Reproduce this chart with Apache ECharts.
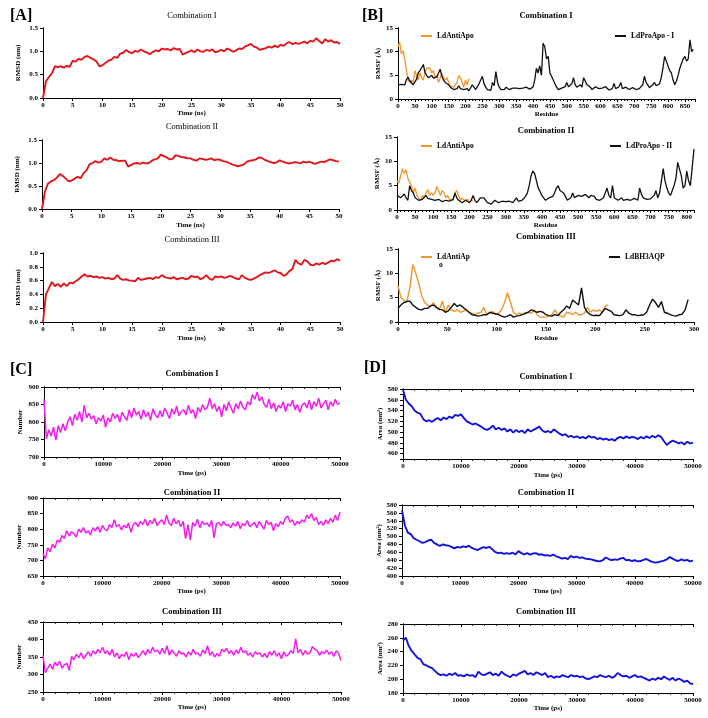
<!DOCTYPE html>
<html><head><meta charset="utf-8">
<script src="https://cdn.jsdelivr.net/npm/echarts@6/dist/echarts.min.js"></script>
<style>html,body{margin:0;padding:0;background:#fff}#c{width:708px;height:718px}</style>
</head><body><div id="c"></div>
<script>
// ---------- DATA ----------
// [A] RMSD (nm), time 0..50 ns every 0.5 ns
const rmsdA1 = [0,0.36,0.45,0.53,0.68,0.66,0.68,0.65,0.69,0.67,
0.8,0.78,0.84,0.82,0.88,0.9,0.86,0.83,0.78,0.68,
0.7,0.75,0.8,0.82,0.88,0.86,0.95,0.97,1.03,0.98,
0.96,1.01,0.99,1.04,1.0,0.97,0.94,0.99,1.02,1.0,
1.06,1.04,1.05,1.02,1.07,1.04,1.05,0.93,0.96,0.99,
1.02,0.98,1.04,1.0,0.99,1.03,1.01,1.04,0.98,1.0,
1.03,1.0,1.06,1.03,0.99,1.02,1.06,1.05,1.1,1.13,
1.16,1.1,1.08,1.03,1.05,1.07,1.1,1.08,1.12,1.09,
1.14,1.12,1.17,1.2,1.15,1.18,1.16,1.18,1.21,1.17,
1.23,1.21,1.28,1.22,1.17,1.26,1.21,1.24,1.19,1.2,
1.16];
const rmsdA2 = [0,0.38,0.55,0.6,0.63,0.68,0.76,0.72,0.66,0.6,
0.62,0.66,0.7,0.67,0.78,0.84,0.97,1.0,1.04,1.01,
1.03,1.1,1.07,1.12,1.07,1.06,1.04,1.05,1.05,0.92,
0.96,0.99,1.0,0.98,1.01,0.99,1.0,1.05,1.08,1.1,
1.18,1.15,1.12,1.08,1.09,1.17,1.15,1.13,1.12,1.1,
1.1,1.07,1.05,1.1,1.09,1.07,1.08,1.1,1.06,1.08,
1.07,1.04,1.03,1.0,0.97,0.95,0.93,0.95,0.97,1.03,
1.05,1.06,1.08,1.12,1.11,1.07,1.04,1.02,1.0,1.01,
1.06,1.03,1.01,0.99,1.0,1.02,1.01,0.99,1.03,1.01,
1.03,1.0,0.98,1.01,1.03,1.02,1.05,1.08,1.06,1.04,
1.03];
const rmsdA3 = [0,0.4,0.49,0.58,0.52,0.55,0.51,0.56,0.52,0.57,
0.56,0.59,0.62,0.66,0.69,0.66,0.67,0.65,0.66,0.64,
0.65,0.63,0.64,0.62,0.63,0.68,0.63,0.61,0.62,0.6,
0.6,0.59,0.64,0.61,0.62,0.63,0.64,0.62,0.65,0.64,
0.68,0.65,0.64,0.63,0.65,0.62,0.63,0.64,0.62,0.63,
0.67,0.65,0.66,0.62,0.64,0.68,0.63,0.61,0.66,0.65,
0.66,0.64,0.65,0.67,0.65,0.63,0.62,0.68,0.64,0.62,
0.61,0.63,0.65,0.68,0.7,0.72,0.71,0.73,0.75,0.72,
0.71,0.67,0.69,0.74,0.77,0.9,0.85,0.83,0.9,0.88,
0.83,0.82,0.85,0.83,0.86,0.84,0.86,0.89,0.88,0.91,
0.89];

// [B] RMSF (A) per residue
const rmsfB1Pro = [3.0,2.7,3.1,2.8,3.0,4.1,4.6,3.8,3.4,3.0,
3.2,4.2,5.5,6.0,6.6,7.3,5.6,5.0,4.5,4.2,
5.0,4.4,4.0,4.6,5.5,6.3,4.8,4.0,3.5,3.2,
3.0,2.5,2.7,2.0,1.7,2.2,2.8,2.2,2.5,2.0,
1.8,2.2,1.7,2.0,3.0,2.5,2.0,2.4,3.2,3.0,
4.8,3.2,2.5,2.0,2.2,1.8,3.5,2.8,5.8,3.5,
2.5,2.0,1.6,2.0,2.5,2.2,2.0,2.4,2.3,2.0,
2.3,2.1,2.2,2.4,2.3,2.0,2.5,2.3,2.1,2.2,
2.5,4.0,6.5,5.5,7.0,5.0,11.8,11.0,8.5,9.0,
5.5,4.8,4.0,3.2,2.5,2.0,1.8,2.3,2.0,2.6,
3.5,2.6,2.8,3.2,4.5,3.0,2.5,2.8,3.0,2.5,
4.5,4.2,3.0,2.6,2.5,2.0,2.2,2.6,3.0,2.2,
1.8,2.3,2.0,2.6,2.5,1.9,1.8,2.2,3.3,2.2,
2.0,2.6,3.5,2.2,2.0,2.5,2.5,2.0,1.8,2.4,
2.5,2.0,1.7,2.2,2.5,3.0,4.8,3.5,3.0,2.4,
2.5,3.0,3.5,2.8,2.5,3.2,4.5,6.5,9.0,8.0,
7.0,6.0,5.5,4.0,3.0,3.8,5.0,6.5,7.5,8.5,
9.0,8.0,8.5,12.5,10.0,10.5];
const rmsfB1Anti = [11.0,12.0,9.5,10.2,8.5,6.0,4.0,3.5,4.0,3.5,
6.0,5.0,4.0,5.5,4.5,4.0,5.5,6.5,6.3,6.5,
5.5,6.0,4.5,5.0,3.5,4.5,5.5,4.5,4.0,4.5,
3.5,2.8,3.0,2.5,2.7,3.5,5.0,4.5,3.5,2.5,
4.0,3.0,4.3];
const rmsfB2Pro = [3.0,2.6,2.5,2.8,3.3,2.5,2.0,5.0,4.0,3.5,
2.5,2.2,2.0,2.4,2.2,2.6,3.0,2.4,2.0,2.2,
2.5,2.0,1.8,2.2,2.0,1.7,1.8,2.0,2.3,1.8,
1.7,2.2,3.5,2.5,2.0,1.7,1.5,1.8,2.0,1.6,
1.5,2.0,3.0,2.0,1.5,2.0,2.5,2.2,2.5,2.0,
1.5,1.3,1.2,1.6,2.0,1.7,1.5,1.8,1.8,1.6,
1.7,1.5,1.8,1.6,1.5,1.8,2.5,1.8,1.8,2.0,
2.0,2.8,3.5,5.0,7.0,8.0,7.5,6.0,4.5,3.8,
3.0,2.5,2.0,2.2,2.5,2.3,2.8,3.5,4.5,5.0,
4.0,3.8,3.5,2.8,2.0,2.2,2.5,3.5,2.5,2.8,
3.0,2.6,2.8,3.0,3.2,2.8,2.5,3.0,3.3,2.8,
2.2,2.5,2.0,2.2,2.5,2.2,4.5,3.0,2.5,5.0,
2.5,2.2,2.0,2.3,2.5,2.0,1.8,2.2,2.5,2.0,
2.0,2.4,2.3,2.0,4.5,3.2,2.5,2.3,2.2,2.0,
2.3,2.5,3.0,4.0,2.5,3.5,6.0,8.5,6.0,4.5,
3.5,3.0,4.0,5.0,6.5,9.8,9.5,7.0,4.5,5.0,
8.0,6.0,5.0,5.0,12.5];
const rmsfB2Anti = [6.0,5.5,7.0,8.5,7.5,8.3,6.5,6.8,5.0,3.5,
4.5,3.0,2.5,2.0,3.0,2.5,3.5,4.2,3.0,3.5,
3.0,3.5,4.8,4.0,3.0,4.0,3.5,2.5,3.0,2.2,
2.5,2.0,3.5,4.0,3.0,2.0,2.5,2.0,1.8,2.2,
1.5,2.0,1.8];
const rmsfB3BH3 = [2.8,3.5,4.0,4.2,4.3,3.5,3.0,2.6,2.5,2.8,
2.8,3.3,3.5,3.0,2.6,2.5,2.0,2.3,3.0,3.8,
3.2,3.5,3.0,2.5,2.0,1.5,1.4,1.2,1.3,1.5,
1.5,2.0,1.8,1.7,1.5,1.2,1.0,1.2,1.5,1.0,
1.2,1.3,1.5,1.8,2.0,2.5,2.3,2.0,2.2,2.0,
1.5,1.3,1.2,1.5,1.3,2.0,2.5,3.3,2.8,4.5,
4.0,3.5,7.0,3.0,2.0,1.5,1.3,1.4,1.3,2.0,
2.8,2.5,2.2,1.5,1.4,1.3,1.5,2.5,1.8,1.5,
1.5,1.3,1.4,1.5,2.0,3.5,4.7,4.0,3.0,4.2,
2.0,1.8,1.5,1.3,1.2,1.5,1.6,2.5,4.6];
const rmsfB3Anti = [7.5,5.0,4.5,4.2,7.0,11.8,10.0,8.0,5.5,4.0,
3.5,3.2,4.0,3.0,2.5,4.3,2.0,3.5,2.5,2.2,
2.5,2.0,2.2,2.5,2.0,1.8,1.5,1.8,2.0,3.0,
1.5,1.8,2.2,1.5,1.8,2.5,4.0,6.0,4.0,2.0,
1.5,1.8,1.5,1.7,2.0,1.8,2.5,1.5,1.0,1.0,
1.0,1.2,1.5,2.5,1.5,1.2,1.0,2.0,1.8,1.5,
2.0,1.5,1.5,1.8,3.0,2.0,2.5,2.2,2.5,2.0,
3.2,3.5];

// [C] Number, time 0..50000 ps every 400 ps
const numC1 = [865,752,778,760,785,748,790,770,795,775,
800,815,790,822,805,830,800,848,812,825,
808,818,795,812,803,820,785,812,800,825,
810,822,800,828,815,805,835,812,840,820,
830,808,835,815,828,805,838,820,812,832,
815,840,825,810,838,822,845,818,830,835,
820,848,825,835,810,842,828,850,835,842,
868,838,852,830,845,815,850,832,858,840,
825,852,838,860,842,835,858,848,878,865,
885,860,872,850,842,865,838,855,830,848,
840,858,830,852,845,862,835,850,828,848,
855,840,862,835,858,845,868,840,852,862,
835,858,845,865,850,855];
const numC2 = [722,705,740,728,752,740,765,758,780,770,
795,778,792,785,775,800,790,805,788,795,
782,805,795,808,790,812,800,795,815,805,
830,808,815,798,812,805,820,790,815,822,
808,825,815,832,810,828,818,835,812,822,
830,815,845,820,812,835,818,828,808,825,
770,815,765,822,810,832,805,825,815,820,
808,828,772,818,822,810,825,812,815,805,
820,810,825,802,818,812,828,808,815,822,
805,825,812,800,828,815,822,795,818,808,
825,815,835,842,822,830,812,825,818,830,
822,845,835,850,828,838,815,825,812,830,
818,835,822,845,828,855];
const numC3 = [355,305,318,330,315,335,325,338,318,328,
332,312,352,342,358,348,362,345,355,365,
352,368,358,372,362,378,360,368,355,372,
350,362,345,358,352,365,342,360,352,362,
348,358,368,355,372,360,378,365,370,358,
375,360,382,355,370,362,352,368,358,362,
350,365,355,372,358,362,352,370,360,382,
355,365,350,360,352,372,365,375,360,368,
355,370,360,378,362,368,355,362,350,365,
358,362,350,360,348,365,355,368,352,362,
345,365,352,358,368,360,402,362,372,355,
368,358,362,380,372,368,355,365,360,370,
358,365,352,368,360,340];

// [D] Area (nm2), time 0..50000 ps every 500 ps
const areaD1 = [578,560,553,548,540,536,534,524,520,522,
519,523,526,522,527,524,529,526,532,530,
533,526,520,517,514,516,513,510,506,504,
507,512,505,508,504,507,501,505,499,504,
500,503,498,505,501,504,507,510,503,500,
502,499,505,501,497,494,496,491,493,490,
492,489,491,488,493,490,491,487,489,486,
488,485,487,484,489,491,488,492,489,491,
490,487,491,488,492,489,493,490,494,491,
483,476,481,484,482,479,481,477,482,479,
480];
const areaD2 = [566,528,510,506,496,492,488,484,486,490,
492,484,480,476,480,478,477,474,470,474,
472,475,473,477,471,468,466,470,473,471,
474,468,461,458,459,456,458,456,459,455,
463,458,455,458,454,457,458,454,455,452,
453,451,454,450,447,444,446,443,451,447,
449,446,447,444,443,442,440,438,437,440,
447,443,440,442,441,444,446,440,441,438,
440,437,438,441,443,439,436,434,435,437,
439,442,448,444,440,438,442,439,441,437,
439];
const areaD3 = [256,260,248,241,236,231,229,222,220,218,
216,212,208,206,207,205,208,206,209,205,
206,204,207,205,206,203,211,207,206,208,
210,206,208,205,211,207,205,203,207,205,
208,210,212,207,209,206,210,208,206,209,
203,205,202,204,203,206,204,203,206,204,
205,203,204,201,200,202,204,203,206,204,
203,205,202,204,209,206,204,205,202,204,
206,203,204,202,200,198,201,199,202,200,
204,201,199,202,198,201,199,196,198,194,
193];

const combTitles = ['Combination I','Combination II','Combination III'];

// ---------- STYLE / LAYOUT ----------
const FONT = '"Liberation Serif", "DejaVu Serif", serif';
const RED = '#e3161c', ORANGE = '#f0962d', BLACK = '#111111', MAG = '#f51cf0', BLUE = '#1212e0';
const f1 = v => v.toFixed(1);
const every = n => (v => (Math.round(v) % n === 0 ? String(Math.round(v)) : ''));

const P = [
 {g:[43,28,297,70], t:combTitles[0], tx:192, ty:16, tw:'normal', x:[0,50,5], y:[0,1.5,0.5], yf:f1, xn:'Time (ns)', yn:'RMSD (nm)', xng:11, yng:21, minor:false,
  s:[{n:'RMSD', d:rmsdA1, st:0.5, c:RED, w:1.9}]},
 {g:[42,140,297,69], t:combTitles[1], tx:192, ty:127, tw:'normal', x:[0,50,5], y:[0,1.5,0.5], yf:f1, xn:'Time (ns)', yn:'RMSD (nm)', xng:13, yng:21, minor:false,
  s:[{n:'RMSD', d:rmsdA2, st:0.5, c:RED, w:1.9}]},
 {g:[43,253,297,69], t:combTitles[2], tx:192, ty:240, tw:'normal', x:[0,50,5], y:[0,1.0,0.2], yf:f1, xn:'Time (ns)', yn:'RMSD (nm)', xng:13, yng:21, minor:false,
  s:[{n:'RMSD', d:rmsdA3, st:0.5, c:RED, w:1.9}]},
 {g:[398,28,297,71], t:combTitles[0], tx:546, ty:16, tw:'bold', x:[0,880,50], xf:every(50), y:[0,15,5], xn:'Residue', yn:'RMSF (Å)', xng:12, yng:12, minor:true,
  s:[{n:'LdAntiApo', d:rmsfB1Anti, st:5, c:ORANGE, w:1.3},{n:'LdProApo - I', d:rmsfB1Pro, st:5, c:BLACK, w:1.3}]},
 {g:[397,137,297,73], t:combTitles[1], tx:546, ty:131, tw:'bold', x:[0,820,50], xf:every(50), y:[0,15,5], xn:'Residue', yn:'RMSF (Å)', xng:12, yng:12, minor:true,
  s:[{n:'LdAntiApo', d:rmsfB2Anti, st:5, c:ORANGE, w:1.3},{n:'LdProApo - II', d:rmsfB2Pro, st:5, c:BLACK, w:1.3}]},
 {g:[398,249,296,73], t:combTitles[2], tx:546, ty:237, tw:'bold', x:[0,300,50], y:[0,15,5], xn:'Residue', yn:'RMSF (Å)', xng:13, yng:12, minor:true,
  s:[{n:'LdAntiApo', d:rmsfB3Anti, st:3, c:ORANGE, w:1.4},{n:'LdBH3AQP', d:rmsfB3BH3, st:3, c:BLACK, w:1.4}]},
 {g:[44,387,296,70], t:combTitles[0], tx:192, ty:374, tw:'bold', x:[0,50000,10000], y:[700,900,50], xn:'Time (ps)', yn:'Number', xng:13, yng:20, minor:true,
  s:[{n:'Number', d:numC1, st:400, c:MAG, w:1.5}]},
 {g:[43,498,297,78], t:combTitles[1], tx:192, ty:493, tw:'bold', x:[0,50000,10000], y:[650,900,50], xn:'Time (ps)', yn:'Number', xng:12, yng:20, minor:true,
  s:[{n:'Number', d:numC2, st:400, c:MAG, w:1.5}]},
 {g:[43,622,298,70], t:combTitles[2], tx:192, ty:612, tw:'bold', x:[0,50000,10000], y:[250,450,50], xn:'Time (ps)', yn:'Number', xng:12, yng:20, minor:true,
  s:[{n:'Number', d:numC3, st:400, c:MAG, w:1.5}]},
 {g:[403,389,290,70], t:combTitles[0], tx:546, ty:377, tw:'bold', x:[0,50000,10000], y:[450,580,10], yf:v => (v % 20 === 0 ? String(v) : ''), xn:'Time (ps)', yn:'Area (nm²)', xng:13, yng:17, minor:true,
  s:[{n:'Area', d:areaD1, st:500, c:BLUE, w:1.9}]},
 {g:[402,505,291,71], t:combTitles[1], tx:546, ty:493, tw:'bold', x:[0,50000,10000], y:[400,580,20], xn:'Time (ps)', yn:'Area (nm²)', xng:11, yng:17, minor:true,
  s:[{n:'Area', d:areaD2, st:500, c:BLUE, w:1.9}]},
 {g:[403,624,290,69], t:combTitles[2], tx:546, ty:612, tw:'bold', x:[0,50000,10000], y:[180,280,20], xn:'Time (ps)', yn:'Area (nm²)', xng:12, yng:17, minor:true,
  s:[{n:'Area', d:areaD3, st:500, c:BLUE, w:1.9}]}
];

const lbl = {fontFamily: FONT, fontWeight: 'bold', fontSize: 7, color: '#000'};
const grids = [], xAxes = [], yAxes = [], series = [];
const graphics = [];
P.forEach((p, i) => {
  grids.push({left: p.g[0], top: p.g[1], width: p.g[2], height: p.g[3], containLabel: false, outerBoundsMode: 'none'});
  const line = {show: true, lineStyle: {color: '#000', width: 1}};
  const minorX = {show: p.minor, splitNumber: 5, length: 2, lineStyle: {color: '#000', width: 0.8}};
  xAxes.push({type: 'value', gridIndex: i, min: p.x[0], max: p.x[1], interval: p.x[2], position: 'bottom',
    axisLine: line, axisTick: {show: true, length: 3, inside: false, lineStyle: {color: '#000'}}, minorTick: minorX,
    axisLabel: Object.assign({margin: 4, formatter: p.xf || (v => String(v))}, lbl),
    splitLine: {show: false}, name: p.xn, nameLocation: 'middle', nameGap: p.xng, nameTextStyle: lbl});
  xAxes.push({type: 'value', gridIndex: i, min: p.x[0], max: p.x[1], interval: p.x[2], position: 'top',
    axisLine: line, axisTick: {show: true, length: 3, inside: true, lineStyle: {color: '#000'}}, minorTick: Object.assign({}, minorX),
    axisLabel: {show: false}, splitLine: {show: false}});
  yAxes.push({type: 'value', gridIndex: i, min: p.y[0], max: p.y[1], interval: p.y[2], position: 'left',
    axisLine: line, axisTick: {show: true, length: 3, inside: false, lineStyle: {color: '#000'}},
    axisLabel: Object.assign({margin: 5, formatter: p.yf || (v => String(v))}, lbl),
    splitLine: {show: false}, name: p.yn, nameLocation: 'middle', nameGap: p.yng, nameTextStyle: lbl});
  yAxes.push({type: 'value', gridIndex: i, min: p.y[0], max: p.y[1], interval: p.y[2], position: 'right',
    axisLine: line, axisTick: {show: true, length: 3, inside: true, lineStyle: {color: '#000'}},
    axisLabel: {show: false}, splitLine: {show: false}});
  p.s.forEach(s => {
    series.push({type: 'line', name: s.n, xAxisIndex: 2 * i, yAxisIndex: 2 * i, showSymbol: false, symbol: 'none',
      animation: false, silent: true, lineStyle: {color: s.c, width: s.w}, itemStyle: {color: s.c},
      data: s.d.map((v, k) => [k * s.st, v])});
  });
  graphics.push({type: 'text', x: p.tx, y: p.ty, silent: true,
    style: {text: p.t, fontFamily: FONT, fontSize: 8.5, fontWeight: p.tw, fill: '#000', align: 'center', verticalAlign: 'middle'}});
});

[['[A]', 10, 16], ['[B]', 362, 16], ['[C]', 10, 370], ['[D]', 364, 368]].forEach(a => {
  graphics.push({type: 'text', x: a[1], y: a[2], silent: true,
    style: {text: a[0], fontFamily: FONT, fontSize: 16, fontWeight: 'bold', fill: '#000', align: 'left', verticalAlign: 'middle'}});
});
graphics.push({type: 'text', x: 439, y: 265, silent: true,
  style: {text: 'o', fontFamily: FONT, fontSize: 7.5, fontWeight: 'bold', fill: '#000', align: 'left', verticalAlign: 'middle'}});

const legBase = {orient: 'horizontal', icon: 'rect', itemWidth: 11, itemHeight: 2, itemGap: 0, padding: 0, selectedMode: false,
  textStyle: {fontFamily: FONT, fontWeight: 'bold', fontSize: 7.5, color: '#000', padding: [0, 0, 0, 0]}};
const legends = [
  [['LdAntiApo'], 421, 32], [['LdProApo - I'], 615, 32],
  [['LdAntiApo'], 421, 142], [['LdProApo - II'], 610, 142],
  [['LdAntiApo'], 421, 253, () => 'LdAntiAp'], [['LdBH3AQP'], 609, 253]
].map(l => Object.assign({}, legBase, {data: l[0], left: l[1], top: l[2]}, l[3] ? {formatter: l[3]} : {}));

const chart = echarts.init(document.getElementById('c'), null, {renderer: 'canvas'});
chart.setOption({
  backgroundColor: '#fff', animation: false,
  grid: grids, xAxis: xAxes, yAxis: yAxes, series: series, legend: legends, graphic: graphics
});
</script></body></html>
